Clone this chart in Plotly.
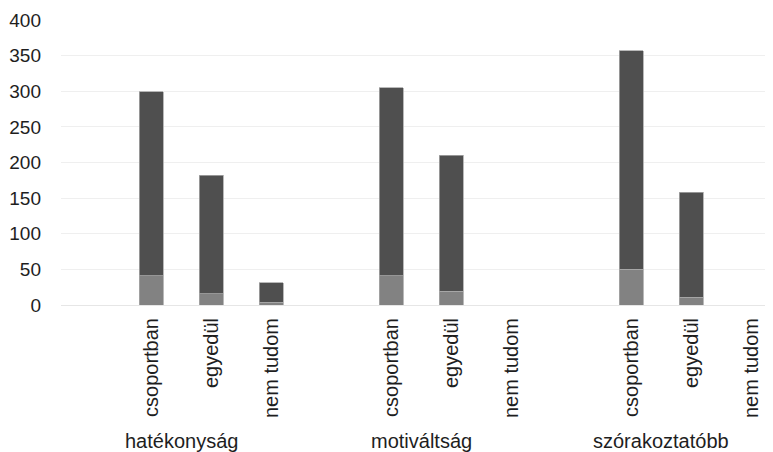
import plotly.graph_objects as go

groups = ["hatékonyság", "motiváltság", "szórakoztatóbb"]
subcats = ["csoportban", "egyedül", "nem tudom"]

# lower (light) segment and upper (dark) segment, per group, per subcategory
light_vals = [[41, 16, 4], [41, 19, 0], [50, 11, 0]]
dark_vals = [[258, 166, 27], [264, 191, 0], [307, 147, 0]]

SLOTS = 4  # each group: one empty slot + three subcategories

xs, lo, hi, tickvals, ticktext = [], [], [], [], []
for g, grp in enumerate(groups):
    for s, sub in enumerate(subcats):
        x = g * SLOTS + s + 1
        xs.append(x)
        lo.append(light_vals[g][s])
        hi.append(dark_vals[g][s])
        tickvals.append(x)
        ticktext.append(sub)

fam = "Liberation Sans, Arial, sans-serif"
col = "#1e1e1e"
xfont = dict(family=fam, size=20, color=col)
yfont = dict(family=fam, size=19, color=col)

fig = go.Figure()
fig.add_trace(go.Bar(x=xs, y=lo, width=0.4, marker=dict(color="#828282", line=dict(color="#a8a8a8", width=0.8)),
                     showlegend=False, hoverinfo="y"))
fig.add_trace(go.Bar(x=xs, y=hi, width=0.4, marker=dict(color="#4f4f4f", line=dict(color="#a8a8a8", width=0.8)),
                     showlegend=False, hoverinfo="y"))

for g, grp in enumerate(groups):
    fig.add_annotation(x=g * SLOTS + len(subcats) / 2, y=-0.477, xref="x", yref="paper",
                       text=grp, showarrow=False, yanchor="middle", xanchor="center", font=xfont)

fig.update_layout(
    barmode="stack",
    width=765, height=444,
    margin=dict(l=53, r=0, t=12, b=147),
    paper_bgcolor="white", plot_bgcolor="white",
    font=xfont,
)
fig.update_xaxes(range=[-0.5, -0.5 + 712 / 60], tickvals=tickvals, ticktext=ticktext, tickangle=-90,
                 showgrid=False, zeroline=False, showline=False, ticks="", tickfont=xfont, ticklabelstandoff=8)
fig.update_yaxes(range=[0, 400], dtick=50, showgrid=True, gridcolor="#efefef", gridwidth=1,
                 zeroline=True, zerolinecolor="#e6e6e6", zerolinewidth=1, showline=False, ticks="",
                 tickfont=yfont, ticklabelstandoff=19)

fig.write_html("out.html")
